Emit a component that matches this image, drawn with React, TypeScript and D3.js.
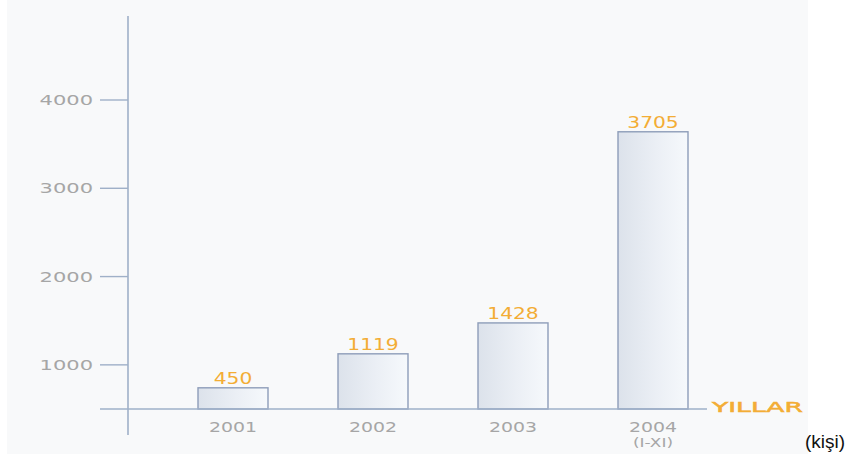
import React from "react";
import * as d3 from "d3";

const categories = ["2001", "2002", "2003", "2004"];
const categorySub = ["", "", "", "(I-XI)"];
const valueLabels = ["450", "1119", "1428", "3705"];
// bar heights as drawn in the picture (axis units)
const barHeights = [740, 1125, 1475, 3640];
const yTicks = [1000, 2000, 3000, 4000];

const W = 858;
const H = 466;
const GRAY = "#a6a6a6";
const ORANGE = "#f3ad35";
const AXIS = "#9fb0c8";
const FONT = "'DejaVu Sans', sans-serif";

function Stretch({ x, y, sx, anchor, size, fill, weight, stroke, children }: any) {
  return (
    <text
      transform={`translate(${x},${y}) scale(${sx},1)`}
      textAnchor={anchor}
      fontFamily={FONT}
      fontSize={size}
      fontWeight={weight || 400}
      fill={fill}
      stroke={stroke || "none"}
      strokeWidth={stroke ? 0.5 : 0}
    >
      {children}
    </text>
  );
}

export default function App() {
  const y = d3.scaleLinear().domain([500, 4000]).range([409, 100]);
  const x = d3
    .scaleBand<string>()
    .domain(categories)
    .range([163, 723])
    .paddingInner(0.5)
    .paddingOuter(0.25);
  const axisX = 128;
  const base = y(500);

  return (
    <svg
      width={W}
      height={H}
      style={{ position: "absolute", left: 0, top: 0, background: "#fff" }}
    >
      <defs>
        <linearGradient id="barGrad" x1="0" x2="1" y1="0" y2="0">
          <stop offset="0%" stopColor="#dce2eb" />
          <stop offset="55%" stopColor="#ebeff5" />
          <stop offset="100%" stopColor="#f6f9fc" />
        </linearGradient>
      </defs>
      <rect x={7} y={0} width={801} height={454} fill="#f8f9fa" />

      {/* bars */}
      {categories.map((c, i) => (
        <rect
          key={c}
          x={x(c)!}
          y={y(barHeights[i])}
          width={x.bandwidth()}
          height={base - y(barHeights[i])}
          fill="url(#barGrad)"
          stroke="#8e9db9"
          strokeWidth={1.4}
        />
      ))}

      {/* y axis */}
      <line x1={axisX} x2={axisX} y1={16} y2={435} stroke={AXIS} strokeWidth={1.6} />
      {yTicks.map((t) => (
        <g key={t}>
          <line x1={100} x2={axisX} y1={y(t)} y2={y(t)} stroke={AXIS} strokeWidth={1.4} />
          <Stretch x={93} y={y(t) + 5} sx={1.5} anchor="end" size={14} fill={GRAY}>
            {t}
          </Stretch>
        </g>
      ))}

      {/* baseline */}
      <line x1={100} x2={707} y1={base} y2={base} stroke={AXIS} strokeWidth={1.6} />

      {/* value labels */}
      {categories.map((c, i) => (
        <Stretch
          key={c}
          x={x(c)! + x.bandwidth() / 2}
          y={y(barHeights[i]) - 4}
          sx={1.35}
          anchor="middle"
          size={15}
          fill={ORANGE}
        >
          {valueLabels[i]}
        </Stretch>
      ))}

      {/* category labels */}
      {categories.map((c, i) => (
        <g key={c}>
          <Stretch
            x={x(c)! + x.bandwidth() / 2}
            y={432}
            sx={1.35}
            anchor="middle"
            size={14}
            fill={GRAY}
          >
            {c}
          </Stretch>
          {categorySub[i] && (
            <Stretch
              x={x(c)! + x.bandwidth() / 2}
              y={447}
              sx={1.3}
              anchor="middle"
              size={13}
              fill={GRAY}
            >
              {categorySub[i]}
            </Stretch>
          )}
        </g>
      ))}

      <Stretch x={712} y={412} sx={1.9} anchor="start" size={14} fill={ORANGE} stroke={ORANGE}>
        YILLAR
      </Stretch>

      <text x={805} y={448} fontFamily="'Liberation Sans', Arial, sans-serif" fontSize={19} fill="#111">
        (kişi)
      </text>
    </svg>
  );
}
